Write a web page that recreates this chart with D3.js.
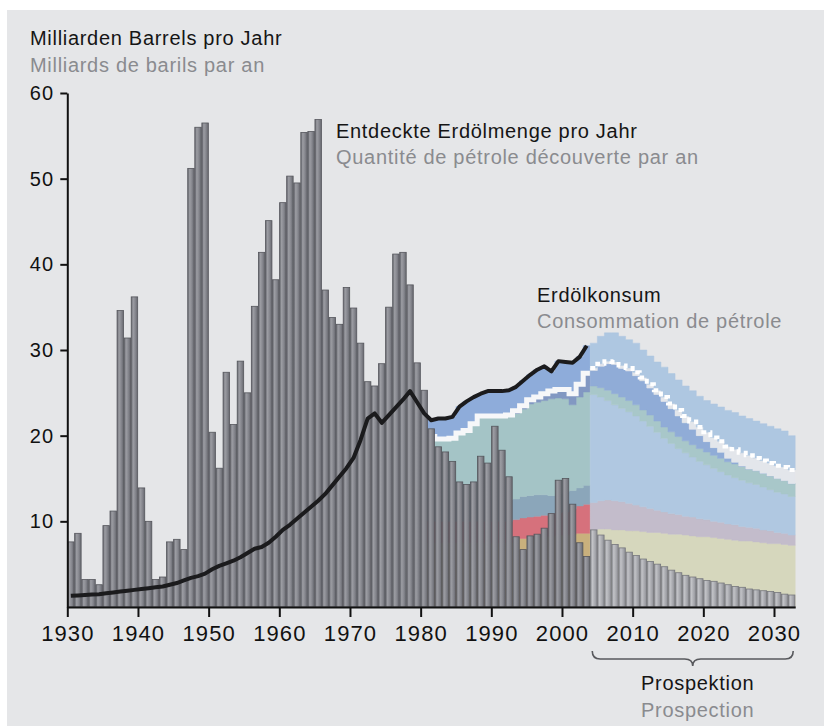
<!DOCTYPE html>
<html>
<head>
<meta charset="utf-8">
<script src="https://cdn.jsdelivr.net/npm/d3@7"></script>
<style>
  body { margin: 0; background: #fff; }
  svg { display: block; font-family: 'Liberation Sans', Arial, sans-serif; }
</style>
</head>
<body>
<svg class="chart" width="824" height="726"></svg>
<script>
// discovered oil per year, 1930-2003 (Gb)
const discovered = [
  7.6, 8.6, 3.2, 3.2, 2.6, 9.5, 11.2, 34.6, 31.4, 36.2,
  13.9, 10.0, 3.2, 3.5, 7.6, 7.9, 6.7, 51.2, 56.0, 56.5,
  20.4, 16.2, 27.4, 21.3, 28.7, 25.0, 35.1, 41.4, 45.1, 38.2,
  47.2, 50.3, 49.5, 55.4, 55.5, 56.9, 37.0, 33.8, 33.0, 37.3,
  34.9, 30.8, 26.3, 25.8, 28.4, 35.0, 41.2, 41.4, 37.6, 28.5,
  25.3, 20.8, 18.7, 18.1, 17.0, 14.6, 14.3, 14.6, 17.6, 16.8,
  21.1, 18.3, 15.2, 8.2, 6.7, 8.3, 8.5, 9.2, 10.9, 14.8,
  15.0, 12.0, 7.5, 5.9,
];
// prospection 2004-2032
const discoveredProj = [
  9.0, 8.4, 7.8, 7.3, 6.9, 6.4, 6.0, 5.6, 5.3, 5.0,
  4.7, 4.3, 4.0, 3.7, 3.5, 3.3, 3.1, 3.0, 2.8, 2.6,
  2.4, 2.3, 2.1, 2.0, 1.9, 1.8, 1.7, 1.5, 1.4,
];
// consumption 1930-2003
const consumption = [
  1.3, 1.35, 1.4, 1.45, 1.5, 1.6, 1.7, 1.8, 1.9, 2.0,
  2.1, 2.2, 2.3, 2.4, 2.6, 2.8, 3.1, 3.4, 3.6, 3.9,
  4.4, 4.8, 5.1, 5.4, 5.8, 6.3, 6.8, 7.0, 7.5, 8.2,
  9.0, 9.6, 10.3, 11.0, 11.7, 12.4, 13.2, 14.2, 15.2, 16.2,
  17.4, 19.5, 22.0, 22.6, 21.5, 22.4, 23.3, 24.2, 25.2, 23.9,
  22.6, 21.8, 22.0, 22.0, 22.2, 23.4, 24.0, 24.5, 24.9, 25.2,
  25.2, 25.2, 25.3, 25.7, 26.4, 27.1, 27.7, 28.1, 27.5, 28.7,
  28.6, 28.5, 29.2, 30.5,
];

// consumption split by source, 1981-2003
const tanHist = [7.5, 7.5, 7.5, 7.5, 7.5, 7.5, 7.5, 7.5, 7.5, 7.5, 7.5, 7.5, 8.2, 8.0, 8.0, 8.1, 8.2, 8.3, 8.4, 8.4, 8.5, 8.6, 8.6];
const redHist = [2.5, 2.5, 2.5, 2.5, 2.5, 2.5, 2.5, 2.5, 2.5, 2.5, 2.5, 2.5, 2.0, 2.4, 2.5, 2.5, 2.5, 2.6, 2.6, 2.7, 2.9, 3.2, 3.4];
const steelHist = [2.5, 2.5, 2.5, 2.5, 2.5, 2.5, 2.5, 2.5, 2.5, 2.5, 2.5, 2.5, 2.4, 2.5, 2.5, 2.5, 2.4, 2.1, 2.2, 2.3, 2.2, 2.1, 2.2];
const tealHist = [7.4, 7.1, 7.1, 7.2, 7.8, 8.1, 8.9, 9.8, 9.8, 9.8, 9.8, 9.9, 10.0, 10.2, 10.7, 10.8, 11.0, 11.3, 11.2, 10.9, 10.0, 10.6, 10.9];
const slateHist = [0, 0, 0, 0, 0, 0, 0, 0, 0, 0, 0, 0, 0.3, 0.4, 0.5, 0.6, 0.8, 0.9, 1.0, 1.1, 1.3, 1.5, 2.2];
const blueHist = [1.9, 2.4, 2.4, 2.5, 3.1, 3.4, 3.1, 2.6, 2.9, 2.9, 2.9, 2.9, 2.8, 2.9, 2.9, 3.2, 3.2, 2.3, 3.3, 3.2, 3.6, 3.2, 3.2];

// projected split, 2004-2032
const yellowProj = [9.0, 9.1, 9.1, 9.0, 9.0, 8.9, 8.9, 8.8, 8.7, 8.7, 8.6, 8.5, 8.5, 8.4, 8.3, 8.2, 8.2, 8.1, 8.0, 7.9, 7.8, 7.7, 7.7, 7.6, 7.5, 7.4, 7.4, 7.3, 7.2];
const mauveProj = [3.2, 3.3, 3.4, 3.4, 3.3, 3.2, 3.0, 2.9, 2.8, 2.6, 2.5, 2.4, 2.3, 2.2, 2.2, 2.1, 2.0, 1.9, 1.9, 1.8, 1.8, 1.7, 1.6, 1.6, 1.5, 1.5, 1.3, 1.3, 1.2];
const lightProj = [12.6, 12.1, 11.6, 11.2, 10.9, 10.7, 10.4, 10.0, 9.6, 9.1, 8.6, 8.2, 7.7, 7.4, 7.0, 6.7, 6.4, 6.2, 5.9, 5.7, 5.5, 5.4, 5.2, 5.1, 5.0, 4.8, 4.7, 4.6, 4.5];
const tealProj = [1.0, 1.1, 1.2, 1.3, 1.3, 1.3, 1.3, 1.3, 1.3, 1.3, 1.3, 1.35, 1.4, 1.4, 1.45, 1.5, 1.5, 1.5, 1.55, 1.55, 1.6, 1.6, 1.6, 1.6, 1.6, 1.6, 1.6, 1.55, 1.5];
const midProj = [1.8, 2.5, 3.1, 3.4, 3.35, 3.45, 3.4, 3.4, 3.15, 3.1, 3.0, 2.7, 2.4, 2.1, 1.8, 1.5, 1.2, 0.9, 0.7, 0.4, 0.2, 0.05, 0, 0, 0, 0, 0, 0, 0];
const paleProj = [0.3, 0.3, 0.3, 0.3, 0.35, 0.35, 0.4, 0.4, 0.45, 0.5, 0.5, 0.6, 0.7, 0.8, 0.9, 1.0, 1.1, 1.2, 1.3, 1.4, 1.5, 1.55, 1.6, 1.5, 1.5, 1.5, 1.5, 1.6, 1.6];
const topProj = [2.9, 3.2, 3.3, 3.4, 3.4, 3.3, 3.4, 3.2, 3.3, 3.3, 3.5, 3.5, 3.5, 3.5, 3.6, 3.6, 3.7, 3.9, 4.0, 4.2, 4.3, 4.3, 4.3, 4.3, 4.3, 4.3, 4.3, 4.2, 4.0];

const xTicks = [1930, 1940, 1950, 1960, 1970, 1980, 1990, 2000, 2010, 2020, 2030];
const yTicks = [10, 20, 30, 40, 50, 60];

const years = d3.range(1930, 2004);
const projYears = d3.range(2004, 2033);
const histYears = d3.range(1981, 2004);

const svg = d3.select('.chart');
svg.append('rect')
  .attr('x', 7).attr('y', 10)
  .attr('width', 817).attr('height', 716)
  .attr('fill', '#e5e6e8');

const x = d3.scaleLinear().domain([1930, 2033]).range([67.3, 795.2]);
const y = d3.scaleLinear().domain([0, 60]).range([607, 93]);

const defs = svg.append('defs');
function barGradient(id, stops) {
  const g = defs.append('linearGradient').attr('id', id);
  stops.forEach(([o, c]) => g.append('stop').attr('offset', o).attr('stop-color', c));
}
barGradient('barHist', [['0%', '#65666d'], ['30%', '#9c9da3'], ['60%', '#898a91'], ['100%', '#67686f']]);
barGradient('barProj', [['0%', '#8c8d93'], ['30%', '#c2c3c7'], ['60%', '#adaeb3'], ['100%', '#8f9096']]);

// stacked areas
function stepPoints(layer) {
  const pts = layer.map(d => ({ year: d.data.year, lo: d[0], hi: d[1] }));
  const last = pts[pts.length - 1];
  return pts.concat([{ year: last.year + 1, lo: last.lo, hi: last.hi }]);
}
const area = d3.area()
  .curve(d3.curveStepAfter)
  .x(d => x(d.year))
  .y0(d => y(d.lo))
  .y1(d => y(d.hi));
const stepLine = d3.line()
  .curve(d3.curveStepAfter)
  .x(d => x(d.year))
  .y(d => y(d.hi));

const histKeys = ['tan', 'red', 'steel', 'teal', 'slate', 'blue'];
const histColors = {
  tan: '#c9b07d', red: '#d6717c', steel: '#8ba6ba', teal: '#a4c4c6', slate: '#8298c2', blue: '#8eacda',
};
const histTable = histYears.map((yr, i) => ({
  year: yr,
  tan: tanHist[i],
  red: redHist[i],
  steel: steelHist[i],
  teal: tealHist[i],
  slate: slateHist[i],
  blue: blueHist[i],
}));
const histStack = d3.stack().keys(histKeys)(histTable);

const projKeys = ['yellow', 'mauve', 'light', 'teal', 'mid', 'pale', 'top'];
const projColors = {
  yellow: '#d6d7bd', mauve: '#c3bccb', light: '#b0c8e1', teal: '#a8c7c9', mid: '#90acd7', pale: '#e3e6eb', top: '#aec7e1',
};
const projTable = projYears.map((yr, i) => ({
  year: yr,
  yellow: yellowProj[i],
  mauve: mauveProj[i],
  light: lightProj[i],
  teal: tealProj[i],
  mid: midProj[i],
  pale: paleProj[i],
  top: topProj[i],
}));
const projStack = d3.stack().keys(projKeys)(projTable);

svg.append('g').selectAll('path')
  .data(histStack)
  .enter()
  .append('path')
  .attr('d', d => area(stepPoints(d)))
  .attr('fill', d => histColors[d.key])
  .attr('stroke', d => histColors[d.key])
  .attr('stroke-width', 0.5);

svg.append('path')
  .attr('d', stepLine(stepPoints(histStack[4])))
  .attr('fill', 'none')
  .attr('stroke', '#f6f7f9')
  .attr('stroke-width', 5);

svg.append('g').selectAll('path')
  .data(projStack)
  .enter()
  .append('path')
  .attr('d', d => area(stepPoints(d)))
  .attr('fill', d => projColors[d.key])
  .attr('stroke', d => projColors[d.key])
  .attr('stroke-width', 0.5);

svg.append('path')
  .attr('d', stepLine(stepPoints(projStack[5])))
  .attr('fill', 'none')
  .attr('stroke', '#fff')
  .attr('stroke-width', 4)
  .attr('stroke-dasharray', '5,4');

// bars
function drawBars(yrs, values, fill, stroke) {
  svg.append('g').selectAll('rect')
    .data(yrs.map((yr, i) => ({ year: yr, value: values[i] })))
    .enter()
    .append('rect')
    .attr('x', d => x(d.year) + 0.3)
    .attr('y', d => y(d.value))
    .attr('width', d => x(d.year + 1) - x(d.year) - 0.6)
    .attr('height', d => y(0) - y(d.value))
    .attr('fill', fill)
    .attr('stroke', stroke)
    .attr('stroke-width', 0.8);
}
drawBars(years, discovered, 'url(#barHist)', '#55565c');
drawBars(projYears, discoveredProj, 'url(#barProj)', '#76777d');

// consumption line
const line = d3.line()
  .x(d => x(d.year + 0.5))
  .y(d => y(d.value));
svg.append('path')
  .datum(years.map((yr, i) => ({ year: yr, value: consumption[i] })))
  .attr('d', line)
  .attr('fill', 'none')
  .attr('stroke', '#1b1b1d')
  .attr('stroke-width', 4)
  .attr('stroke-linejoin', 'round');

// axes
const yAxis = svg.append('g')
  .attr('transform', `translate(${x(1930)},0)`)
  .call(d3.axisLeft(y).tickValues(yTicks).tickSize(7).tickSizeOuter(0).tickPadding(6));
const xAxis = svg.append('g')
  .attr('transform', `translate(0,${y(0)})`)
  .call(d3.axisBottom(x).tickValues(xTicks).tickFormat(d3.format('d')).tickSize(10).tickSizeOuter(0).tickPadding(8));
[yAxis, xAxis].forEach((g) => {
  g.select('.domain').attr('stroke', '#111').attr('stroke-width', 2);
  g.selectAll('.tick line').attr('stroke', '#111').attr('stroke-width', 2);
  g.selectAll('text').attr('fill', '#111').attr('font-family', "'Liberation Sans', Arial, sans-serif");
});
yAxis.selectAll('text').attr('font-size', 20).attr('letter-spacing', 1.2);
xAxis.selectAll('text').attr('font-size', 22).attr('letter-spacing', 1.1);

// bracket under the prospection years
const bx0 = x(2004) + 2;
const bx1 = x(2033) - 2;
const bm = (bx0 + bx1) / 2;
svg.append('path')
  .attr('d', `M${bx0},651 Q${bx0},659 ${bx0 + 8},659 L${bm - 8},659 Q${bm},659 ${bm},666 Q${bm},659 ${bm + 8},659 L${bx1 - 8},659 Q${bx1},659 ${bx1},651`)
  .attr('fill', 'none')
  .attr('stroke', '#58595d')
  .attr('stroke-width', 1.6);

// labels
const labels = [
  { text: 'Milliarden Barrels pro Jahr', x: 30, y: 45, color: '#151515' },
  { text: 'Milliards de barils par an', x: 30, y: 72, color: '#8a8b8f' },
  { text: 'Entdeckte Erdölmenge pro Jahr', x: 336, y: 138, color: '#151515' },
  { text: 'Quantité de pétrole découverte par an', x: 336, y: 164, color: '#8a8b8f' },
  { text: 'Erdölkonsum', x: 537, y: 302, color: '#151515' },
  { text: 'Consommation de pétrole', x: 537, y: 328, color: '#8a8b8f' },
  { text: 'Prospektion', x: 641, y: 690, color: '#151515' },
  { text: 'Prospection', x: 641, y: 717, color: '#8a8b8f' },
];
svg.append('g').selectAll('text')
  .data(labels)
  .enter()
  .append('text')
  .attr('x', d => d.x)
  .attr('y', d => d.y)
  .attr('fill', d => d.color)
  .attr('font-size', 20)
  .attr('letter-spacing', 0.7)
  .text(d => d.text);
</script>
</body>
</html>
